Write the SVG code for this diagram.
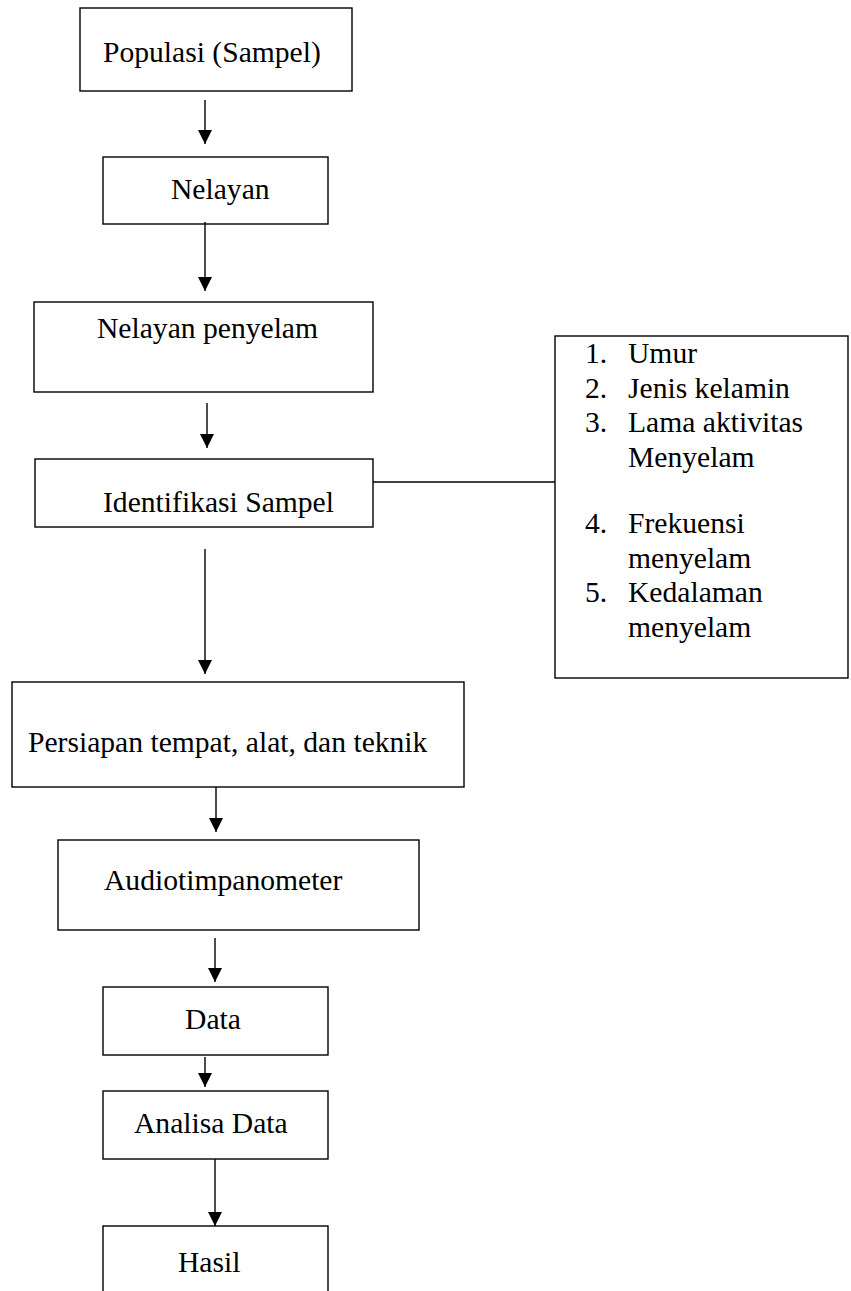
<svg xmlns="http://www.w3.org/2000/svg" width="851" height="1291" viewBox="0 0 851 1291">
<style>
.box{fill:#fff;stroke:#000;stroke-width:1.4}
.t{font-family:"Liberation Serif","Times New Roman",serif;font-size:29.6px;fill:#000}
.c{fill:none;stroke:#000;stroke-width:1.4}
</style>
<defs>
<marker id="ah" markerUnits="userSpaceOnUse" markerWidth="14" markerHeight="14" refX="14" refY="7" orient="auto">
<path d="M0,0 L14,7 L0,14 z" fill="#000"/>
</marker>
</defs>
<rect width="851" height="1291" fill="#fff"/>
<g id="n1"><rect class="box" x="80" y="8" width="272" height="83"/><text class="t" x="103" y="62">Populasi (Sampel)</text></g>
<g id="n2"><rect class="box" x="103" y="157" width="225" height="67"/><text class="t" x="171" y="199">Nelayan</text></g>
<g id="n3"><rect class="box" x="34" y="302" width="339" height="90"/><text class="t" x="97" y="338">Nelayan penyelam</text></g>
<g id="n4"><rect class="box" x="35" y="459" width="338" height="68"/><text class="t" x="103" y="512">Identifikasi Sampel</text></g>
<g id="n5"><rect class="box" x="555" y="336" width="293" height="342"/>
<text class="t" x="585" y="363">1.</text><text class="t" x="628" y="363">Umur</text>
<text class="t" x="585" y="398">2.</text><text class="t" x="628" y="398">Jenis kelamin</text>
<text class="t" x="585" y="432">3.</text><text class="t" x="628" y="432">Lama aktivitas</text>
<text class="t" x="628" y="467">Menyelam</text>
<text class="t" x="585" y="533">4.</text><text class="t" x="628" y="533">Frekuensi</text>
<text class="t" x="628" y="568">menyelam</text>
<text class="t" x="585" y="602">5.</text><text class="t" x="628" y="602">Kedalaman</text>
<text class="t" x="628" y="637">menyelam</text>
</g>
<g id="n6"><rect class="box" x="12" y="682" width="452" height="105"/><text class="t" x="28" y="752">Persiapan tempat, alat, dan teknik</text></g>
<g id="n7"><rect class="box" x="58" y="840" width="361" height="90"/><text class="t" x="104" y="890">Audiotimpanometer</text></g>
<g id="n8"><rect class="box" x="103" y="987" width="225" height="68"/><text class="t" x="213" y="1029" text-anchor="middle">Data</text></g>
<g id="n9"><rect class="box" x="103" y="1091" width="225" height="68"/><text class="t" x="134" y="1133">Analisa Data</text></g>
<g id="n10"><rect class="box" x="103" y="1226" width="225" height="80"/><text class="t" x="178" y="1272">Hasil</text></g>
<g id="connectors">
<line class="c" x1="205" y1="100" x2="205" y2="144" marker-end="url(#ah)"/>
<line class="c" x1="205" y1="222" x2="205" y2="291" marker-end="url(#ah)"/>
<line class="c" x1="207" y1="403" x2="207" y2="448" marker-end="url(#ah)"/>
<line class="c" x1="205" y1="549" x2="205" y2="674" marker-end="url(#ah)"/>
<line class="c" x1="373" y1="482" x2="555" y2="482"/>
<line class="c" x1="216" y1="787" x2="216" y2="832" marker-end="url(#ah)"/>
<line class="c" x1="215" y1="938" x2="215" y2="982" marker-end="url(#ah)"/>
<line class="c" x1="205" y1="1057" x2="205" y2="1087" marker-end="url(#ah)"/>
<line class="c" x1="215" y1="1159" x2="215" y2="1226" marker-end="url(#ah)"/>
</g>
</svg>
